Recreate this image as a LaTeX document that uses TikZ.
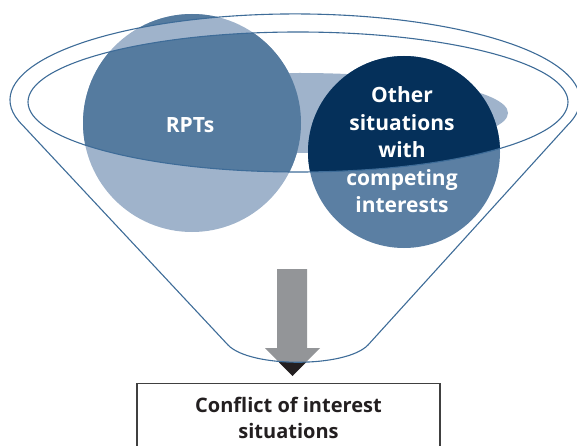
\documentclass[tikz,border=0pt]{standalone}
\usepackage{fontspec}
\setmainfont{Open Sans}
\definecolor{rptdark}{HTML}{557B9F}
\definecolor{rptlight}{HTML}{9FB3CB}
\definecolor{othdark}{HTML}{05305A}
\definecolor{othlight}{HTML}{5B7FA3}
\definecolor{surf}{HTML}{9FB3CB}
\definecolor{arrgray}{HTML}{939598}
\definecolor{arrblack}{HTML}{231F20}
\definecolor{funline}{HTML}{3E6C98}
\definecolor{txtdark}{HTML}{231F20}
\tikzset{
  funnelline/.style={draw=funline, line width=1.1pt},
  whitelabel/.style={text=white, font=\fontsize{21}{27.5}\selectfont\bfseries, align=center, inner sep=0pt},
  resultbox/.style={draw=black!75, line width=1.4pt, fill=white, minimum width=303pt, minimum height=69pt, inner sep=0pt, align=center, text=txtdark, font=\fontsize{20}{26}\selectfont\bfseries}
}
\begin{document}
\begin{tikzpicture}[x=1pt,y=1pt]
\useasboundingbox (0,0) rectangle (577,-446);
\def\funnelpath{(22.5,-125.1) arc[start angle=197,end angle=-17,x radius=285,y radius=86] -- (368,-345) .. controls (346,-368) and (250,-368) .. (228,-345) -- cycle}
\def\innerpath{(298,-102) ellipse [x radius=270, y radius=70]}
\def\arrowpath{(277,-269) -- (307,-269) -- (307,-348) -- (320,-348) -- (292.5,-376) -- (265,-348) -- (277,-348) -- cycle}
% surface ellipse
\fill[surf] (300,-113) ellipse [x radius=208, y radius=40];
% circles and arrow, light versions
\fill[rptlight] (192,-123) circle [radius=109];
\fill[othlight] (404,-152) circle [radius=96];
\fill[arrgray] \arrowpath;
% dark versions outside the funnel wall
\begin{scope}[even odd rule]
  \clip (-20,20) rectangle (600,-470) \funnelpath \innerpath;
  \fill[rptdark] (192,-123) circle [radius=109];
  \fill[othdark] (404,-152) circle [radius=96];
  \fill[arrblack] \arrowpath;
\end{scope}
% funnel outlines
\draw[funnelline] \funnelpath;
\draw[funnelline] \innerpath;
% labels
\node[whitelabel] (rpt) at (190,-125) {RPTs};
\node[whitelabel] (other) at (402,-150) {Other\\situations\\with\\competing\\interests};
\node[resultbox, anchor=north] (result) at (288.5,-383) {Conflict of interest\\situations};
\end{tikzpicture}
\end{document}
